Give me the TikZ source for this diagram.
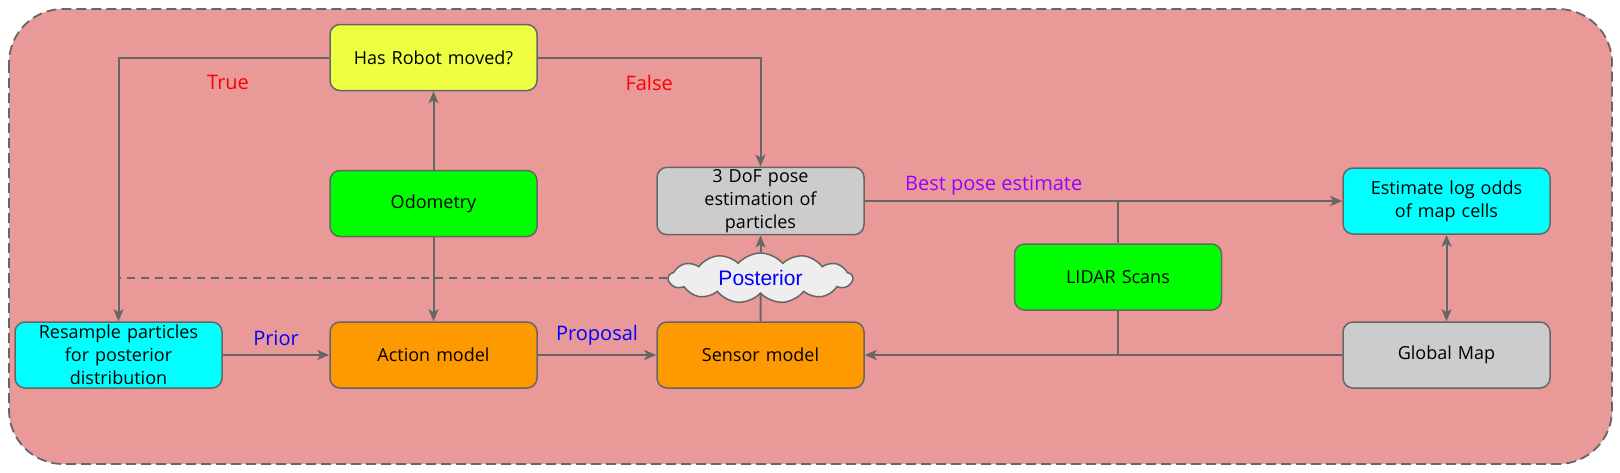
\documentclass[tikz,border=0pt]{standalone}
\usepackage{fontspec}
\setmainfont{Open Sans}
\newfontfamily\arialfont{Liberation Sans}
\usetikzlibrary{arrows.meta, shapes.symbols}

\definecolor{frameFill}{RGB}{234,153,153}
\definecolor{lineGray}{RGB}{102,102,102}
\definecolor{boxYellow}{RGB}{238,255,65}
\definecolor{boxGreen}{RGB}{0,255,0}
\definecolor{boxGray}{RGB}{204,204,204}
\definecolor{boxOrange}{RGB}{255,153,0}
\definecolor{boxCyan}{RGB}{0,255,255}
\definecolor{cloudFill}{RGB}{238,238,238}
\definecolor{labelPurple}{RGB}{153,0,255}

\begin{document}
\begin{tikzpicture}[x=0.5pt,y=-0.5pt,
  procbox/.style={draw=lineGray, line width=0.75pt, rounded corners=5pt,
    minimum width=103.5pt, minimum height=33pt, text width=95pt, align=center,
    inner sep=1pt, font=\fontsize{9}{11.5}\selectfont},
  arr/.style={draw=lineGray, line width=1pt, -{Stealth[length=6pt,width=5pt,inset=1.5pt]}},
  conn/.style={draw=lineGray, line width=1pt},
  edgelabel/.style={font=\fontsize{10}{12}\selectfont}]
\useasboundingbox (0,0) rectangle (1620,472);

% frame
\draw [draw=lineGray, fill=frameFill, line width=0.9pt, dash pattern={on 5pt off 2.5pt}, rounded corners=27pt] (9,9) rectangle (1612,464);

% boxes
\node [procbox, fill=boxYellow] (robot) at (433.5,57.5) {Has Robot moved?};
\node [procbox, fill=boxGreen] (odo) at (433.5,203.5) {Odometry};
\node [procbox, fill=boxGray] (pose) at (760.5,201) {3 DoF pose\\estimation of\\particles};
\node [procbox, fill=boxCyan] (logodds) at (1446.5,201) {Estimate log odds\\of map cells};
\node [procbox, fill=boxGreen] (lidar) at (1118,277) {LIDAR Scans};
\node [procbox, fill=boxGray] (map) at (1446.5,355) {Global Map};
\node [procbox, fill=boxCyan] (resample) at (118.5,355) {Resample particles\\for posterior\\distribution};
\node [procbox, fill=boxOrange] (action) at (433.5,355) {Action model};
\node [procbox, fill=boxOrange] (sensor) at (760.5,355) {Sensor model};
\node [cloud, cloud puffs=13, cloud puff arc=100, aspect=4.2, draw=lineGray, line width=0.75pt,
  fill=cloudFill, minimum width=92pt, minimum height=25pt, inner sep=0pt,
  text=blue, font=\arialfont\fontsize{10.5}{12}\selectfont] (post) at (760.5,278) {Posterior};

% connectors
\draw [arr] (odo) -- (robot);
\draw [arr] (odo) -- (action);
\draw [arr] (robot.west) -| node [pos=0.24, below=5pt, edgelabel, text=red] {True} (resample.north);
\draw [arr] (robot.east) -| node [pos=0.25, below=5pt, edgelabel, text=red] {False} (pose.north);
\draw [arr] (resample) -- node [above=1pt, edgelabel, text=blue] {Prior} (action);
\draw [arr] (action) -- node [above=1pt, edgelabel, text=blue] {Proposal} (sensor);
\draw [conn] (sensor) -- (post);
\draw [arr] (post) -- (pose);
\draw [conn, dash pattern={on 4pt off 3pt}] (post.west) -- (post.west -| resample.north);
\draw [arr] (pose.east) -- node [pos=0.27, above=-1pt, edgelabel, text=labelPurple] {Best pose estimate} (logodds.west);
\draw [conn] (lidar.north) -- (lidar.north |- pose.east);
\draw [conn] (lidar.south) -- (lidar.south |- map.west);
\draw [arr] (map) -- (sensor);
\draw [arr, {Stealth[length=6pt,width=5pt,inset=1.5pt]}-{Stealth[length=6pt,width=5pt,inset=1.5pt]}] (logodds) -- (map);

\end{tikzpicture}
\end{document}
